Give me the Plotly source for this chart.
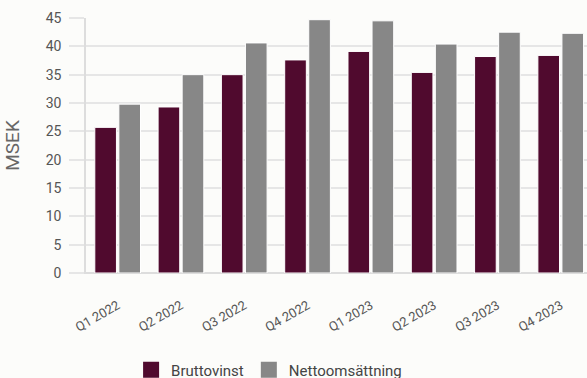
import plotly.graph_objects as go

quarters = ["Q1 2022", "Q2 2022", "Q3 2022", "Q4 2022",
            "Q1 2023", "Q2 2023", "Q3 2023", "Q4 2023"]
bruttovinst = [25.7, 29.3, 35.0, 37.6, 39.1, 35.4, 38.2, 38.4]
nettoomsattning = [29.8, 35.0, 40.6, 44.7, 44.5, 40.4, 42.5, 42.3]

y_ticks = [0, 5, 10, 15, 20, 25, 30, 35, 40, 45]

series = [
    ("Bruttovinst", bruttovinst, "#500a2e"),
    ("Nettoomsättning", nettoomsattning, "#878787"),
]

font_family = "Roboto, Noto Sans, sans-serif"
bg = "#fcfcfa"
grid = "#e6e6e6"

fig = go.Figure()
for name, values, color in series:
    fig.add_trace(go.Bar(
        x=quarters, y=values, name=name, showlegend=False,
        marker=dict(color=color, line=dict(color="#ffffff", width=1)),
    ))
# larger square swatches for the legend
for name, values, color in series:
    fig.add_trace(go.Scatter(
        x=[None], y=[None], mode="markers", name=name,
        marker=dict(symbol="square", size=17, color=color),
    ))

fig.update_layout(
    width=587, height=378,
    margin=dict(l=86, r=0, t=18, b=105, autoexpand=False),
    paper_bgcolor=bg, plot_bgcolor=bg,
    barmode="group", bargap=0.24, bargroupgap=0.1,
    font=dict(family=font_family, color="#555555", size=13),
    showlegend=True,
    legend=dict(
        orientation="h", x=0.09, xanchor="left", y=-0.38, yanchor="middle",
        font=dict(size=15, color="#444444"), itemwidth=30,
        bgcolor="rgba(0,0,0,0)",
    ),
)
fig.update_xaxes(
    range=[-0.5, 7.415], tickangle=-30, ticklabelstandoff=19,
    tickfont=dict(size=13, color="#555555"), automargin=False,
    showgrid=False, showline=True, linecolor="#dddddd", linewidth=1,
    ticks="",
)
fig.update_yaxes(
    range=[0, 45], tickvals=y_ticks, ticklabelstandoff=5,
    ticks="outside", ticklen=15, tickcolor=grid, tickwidth=1.5,
    tickfont=dict(size=14, color="#555555"), automargin=False,
    showgrid=True, gridcolor=grid, gridwidth=1.5,
    showline=True, linecolor="#dddddd", linewidth=1.5,
    zeroline=True, zerolinecolor="#dddddd",
    title=dict(text="MSEK", font=dict(size=19, color="#666666"), standoff=21),
)

fig.write_html("out.html")
